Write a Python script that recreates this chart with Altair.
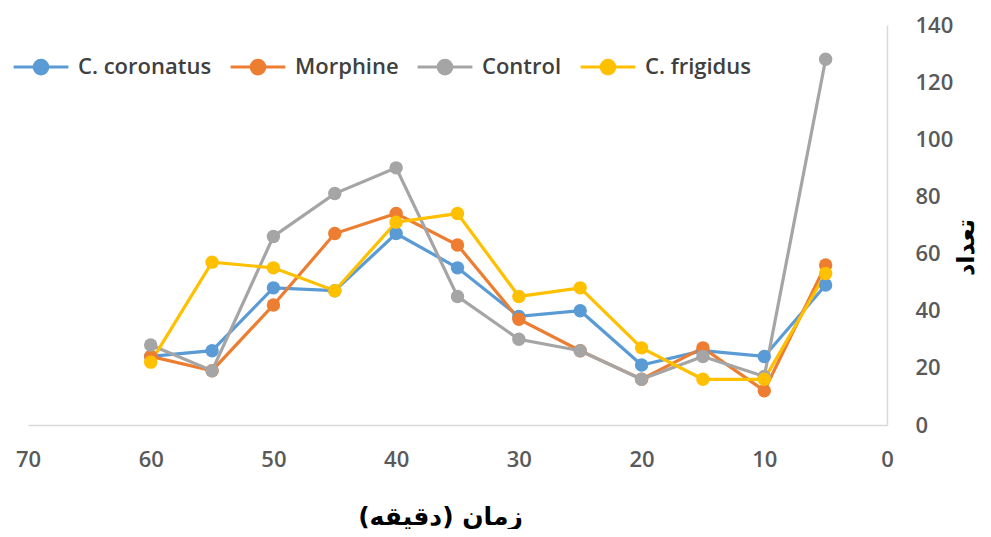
import altair as alt
import pandas as pd

times = [60, 55, 50, 45, 40, 35, 30, 25, 20, 15, 10, 5]
series = ["C. coronatus", "Morphine", "Control", "C. frigidus"]
colors = ["#5B9BD5", "#ED7D31", "#A5A5A5", "#FFC000"]
coronatus = [24, 26, 48, 47, 67, 55, 38, 40, 21, 26, 24, 49]
morphine = [24, 19, 42, 67, 74, 63, 37, 26, 16, 27, 12, 56]
control = [28, 19, 66, 81, 90, 45, 30, 26, 16, 24, 17, 128]
frigidus = [22, 57, 55, 47, 71, 74, 45, 48, 27, 16, 16, 53]
x_ticks = [0, 10, 20, 30, 40, 50, 60, 70]
y_ticks = [0, 20, 40, 60, 80, 100, 120, 140]

rows = []
for name, vals in zip(series, [coronatus, morphine, control, frigidus]):
    for t, v in zip(times, vals):
        rows.append({"time": t, "value": v, "series": name})
df = pd.DataFrame(rows)

label_font = "Open Sans, sans-serif"
arabic_font = "DejaVu Sans"


def ring(r):
    return "M-%s,0A%s,%s,0,1,1,%s,0A%s,%s,0,1,1,-%s,0Z" % (r, r, r, r, r, r, r)


legend_path = "M-1,0H1" + ring(0.25) + ring(0.16) + ring(0.07)

color = alt.Color(
    "series:N",
    scale=alt.Scale(domain=series, range=colors),
    legend=alt.Legend(
        title=None,
        orient="none",
        legendX=-16,
        legendY=13,
        direction="horizontal",
        columns=4,
        symbolType=legend_path,
        symbolSize=3000,
        symbolStrokeWidth=3,
        labelFont=label_font,
        labelFontSize=22,
        labelFontWeight=600,
        labelColor="#404040",
        labelOffset=8,
        columnPadding=12,
    ),
)

x = alt.X(
    "time:Q",
    scale=alt.Scale(domain=[0, 70], reverse=True, nice=False),
    axis=alt.Axis(
        values=x_ticks,
        ticks=False,
        grid=False,
        domainColor="#D9D9D9",
        domainWidth=1.5,
        labelFont=label_font,
        labelFontSize=22,
        labelFontWeight=600,
        labelColor="#595959",
        labelFlush=False,
        labelPadding=24,
        title="زمان (دقیقه)",
        titleFont=arabic_font,
        titleFontSize=25,
        titleFontWeight="bold",
        titleColor="#000000",
        titlePadding=34,
        titleX=412,
    ),
)

y = alt.Y(
    "value:Q",
    scale=alt.Scale(domain=[0, 140], nice=False),
    axis=alt.Axis(
        orient="right",
        values=y_ticks,
        ticks=False,
        grid=False,
        domainColor="#D9D9D9",
        domainWidth=1.5,
        labelFont=label_font,
        labelFontSize=22,
        labelFontWeight=600,
        labelColor="#595959",
        labelAlign="left",
        labelPadding=28,
        labelFlush=False,
        title="تعداد",
        titleFont=arabic_font,
        titleFontSize=24,
        titleFontWeight="bold",
        titleColor="#000000",
        titleAngle=270,
        titlePadding=26,
        titleY=222,
    ),
)

lines = alt.Chart(df).mark_line(strokeWidth=3.2).encode(
    x=x, y=y, color=color, order=alt.Order("time:Q", sort="descending"), detail="series:N"
)
points = alt.Chart(df).mark_circle(size=180, opacity=1).encode(
    x=x, y=y, color=alt.Color("series:N", scale=alt.Scale(domain=series, range=colors), legend=None)
)

chart = (
    alt.layer(lines, points)
    .properties(
        width=859,
        height=400,
        padding={"left": 20, "top": 17, "right": 96, "bottom": 104},
        autosize=alt.AutoSizeParams(type="none"),
    )
    .configure_view(strokeWidth=0)
)

chart.save("out.html", embed_options={"renderer": "svg", "actions": False})
